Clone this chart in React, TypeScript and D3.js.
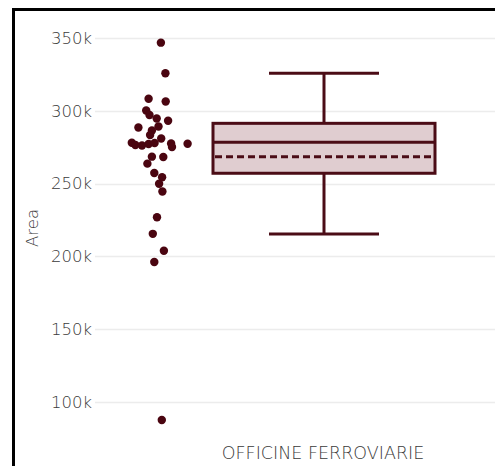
import React from "react";
import * as d3 from "d3";

const category = "OFFICINE FERROVIARIE";
const yTicks = [100000, 150000, 200000, 250000, 300000, 350000];
const yLabel = "Area";

const pointValues = [
  346800, 325800, 308300, 306400, 300200, 297100, 294700, 293200, 288500, 289200,
  286500, 283400, 278100, 276500, 276200, 277200, 277900, 281000, 277500, 275100,
  277400, 268500, 268300, 263700, 257300, 254400, 249900, 244600, 226900, 215500,
  203900, 196200, 87600,
];
const pointJitter = [
  0.03, 0.18, -0.38, 0.19, -0.46, -0.35, -0.11, 0.27, -0.72, -0.05,
  -0.27, -0.33, -0.94, -0.82, -0.6, -0.38, -0.18, 0.04, 0.37, 0.4,
  0.92, -0.27, 0.11, -0.42, -0.19, 0.07, -0.03, 0.08, -0.1, -0.24,
  0.13, -0.19, 0.06,
];

// box statistics
const q1 = 257100;
const median = 278400;
const q3 = 291400;
const mean = 268500;
const lowerWhisker = 215400;
const upperWhisker = 325800;

export default function App() {
  const W = 495;
  const H = 466;
  const y = d3.scaleLinear().domain([100000, 350000]).range([402, 38]);
  const boxCenter = 324;
  const boxHalf = 111;
  const capHalf = 55;
  const pointCenter = 160;
  const jitterWidth = 30;
  const stroke = "#4b0c16";
  const fill = "#e0cdd0";
  const fmt = (v: number) => d3.format("~s")(v);
  const textColor = "#3a3a3a";
  const font = "'DejaVu Sans', sans-serif";

  return (
    <div style={{ position: "fixed", left: 0, top: 0 }}>
      <svg width={W} height={H} style={{ display: "block", background: "#fff" }}>
        {/* grid */}
        {yTicks.map((t) => (
          <g key={t}>
            <line x1={95} x2={W} y1={Math.round(y(t)) + 0.5} y2={Math.round(y(t)) + 0.5} stroke="#ececec" strokeWidth={1.5} />
            <text
              x={92}
              y={y(t)}
              dy="0.35em"
              textAnchor="end"
              fontFamily={font}
              fontSize={16.5}
              fill={textColor}
              fontWeight={300}
            >
              {fmt(t)}
            </text>
          </g>
        ))}
        {/* y label */}
        <text
          transform={`translate(38,228) rotate(-90)`}
          textAnchor="middle"
          fontFamily={font}
          fontSize={16.5}
          fill={textColor}
          fontWeight={300}
        >
          {yLabel}
        </text>
        {/* x label */}
        <text
          x={boxCenter - 1}
          y={459}
          textAnchor="middle"
          fontFamily={font}
          fontSize={17.5}
          fill={textColor}
          fontWeight={300}
        >
          {category}
        </text>
        {/* whiskers */}
        <line x1={boxCenter} x2={boxCenter} y1={y(q3)} y2={y(upperWhisker)} stroke={stroke} strokeWidth={3} />
        <line x1={boxCenter} x2={boxCenter} y1={y(q1)} y2={y(lowerWhisker)} stroke={stroke} strokeWidth={3} />
        <line x1={boxCenter - capHalf} x2={boxCenter + capHalf} y1={y(upperWhisker)} y2={y(upperWhisker)} stroke={stroke} strokeWidth={3} />
        <line x1={boxCenter - capHalf} x2={boxCenter + capHalf} y1={y(lowerWhisker)} y2={y(lowerWhisker)} stroke={stroke} strokeWidth={3} />
        {/* box */}
        <rect
          x={boxCenter - boxHalf}
          y={y(q3)}
          width={boxHalf * 2}
          height={y(q1) - y(q3)}
          fill={fill}
          stroke={stroke}
          strokeWidth={3}
        />
        <line x1={boxCenter - boxHalf} x2={boxCenter + boxHalf} y1={y(median)} y2={y(median)} stroke={stroke} strokeWidth={3} />
        <line
          x1={boxCenter - boxHalf + 2}
          x2={boxCenter + boxHalf - 2}
          y1={y(mean)}
          y2={y(mean)}
          stroke={stroke}
          strokeWidth={3}
          strokeDasharray="7,4"
        />
        {/* points */}
        {pointValues.map((v, i) => (
          <circle key={i} cx={pointCenter + pointJitter[i] * jitterWidth} cy={y(v)} r={4.2} fill="#4a0510" />
        ))}
        {/* frame */}
        <path d={`M13.5,${H + 5} L13.5,9.5 L${W + 5},9.5`} fill="none" stroke="#000" strokeWidth={3} />
      </svg>
    </div>
  );
}
